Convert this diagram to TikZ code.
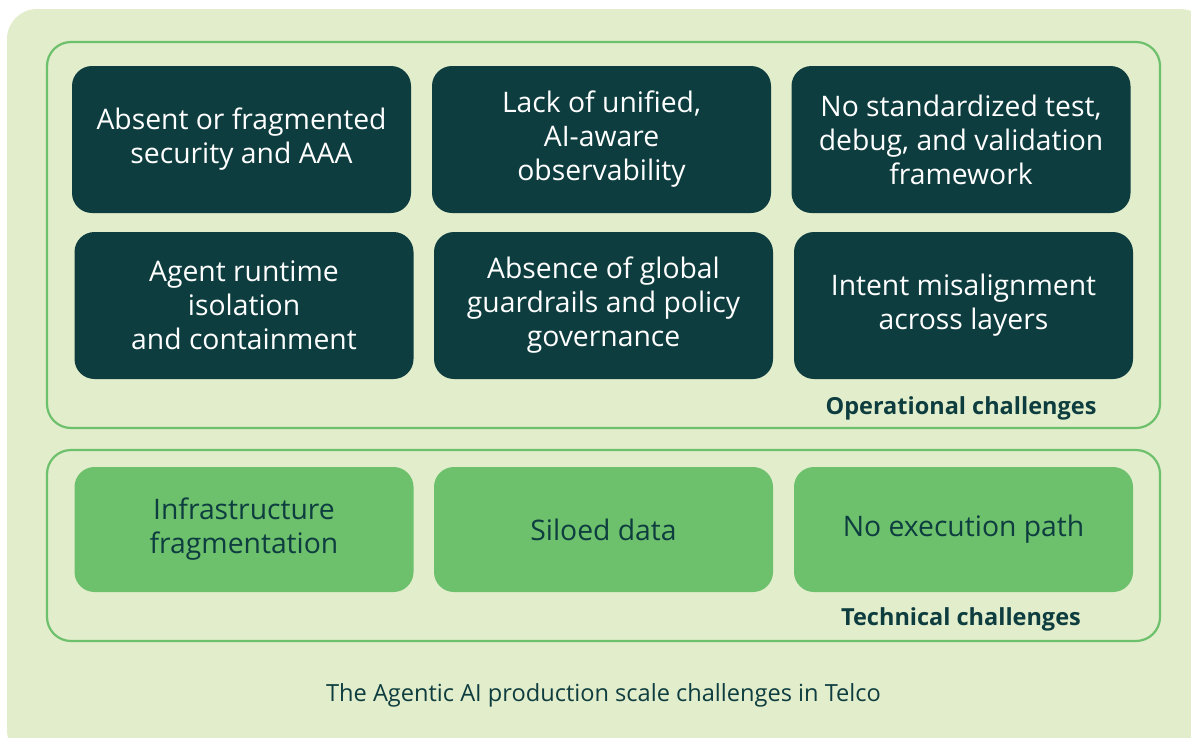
\documentclass[tikz,border=0pt]{standalone}
\usepackage{fontspec}
\setmainfont{Open Sans}
\usepackage{xcolor}
\definecolor{paleGreen}{HTML}{E2EDCB}
\definecolor{frameGreen}{HTML}{6DC06C}
\definecolor{darkTeal}{HTML}{0E3D3F}
\definecolor{softGreen}{HTML}{6DC06C}

\begin{document}
\begin{tikzpicture}[x=1pt,y=-1pt,
    opbox/.style={fill=darkTeal, text=white, rounded corners=20pt, minimum width=339pt, minimum height=147pt, align=center, font=\fontsize{28.3}{34}\selectfont, inner sep=0pt},
    techbox/.style={fill=softGreen, text=darkTeal, rounded corners=20pt, minimum width=339pt, minimum height=125pt, align=center, font=\fontsize{28.3}{34}\selectfont, inner sep=0pt},
    groupframe/.style={draw=frameGreen, line width=2.2pt, rounded corners=24pt},
    grouplabel/.style={text=darkTeal, font=\fontsize{23.5}{28}\selectfont\bfseries}]
              \useasboundingbox (0,0) rectangle (1191,737);
              \fill[paleGreen, rounded corners=30pt] (7,9) rectangle (1210,760);
              % the two groups
              \draw[groupframe] (47,42) rectangle (1160,428);
              \draw[groupframe] (47,450) rectangle (1160,641);
              % operational row one
              \node[opbox] (security) at (241.5,139.5) {Absent or fragmented\\security and AAA};
              \node[opbox] (observe) at (601.5,139.5) {Lack of unified,\\AI-aware\\observability};
              \node[opbox] (testing) at (961,139.5) {No standardized test,\\debug, and validation\\framework};
              % operational row two
              \node[opbox] (runtime) at (244,305.5) {Agent runtime\\isolation\\and containment};
              \node[opbox] (guardrails) at (603.5,305.5) {Absence of global\\guardrails and policy\\governance};
              \node[opbox] (intent) at (963.5,305.5) {Intent misalignment\\across layers};
              \node[grouplabel] (oplabel) at (961,408) {Operational challenges};
              % technical row
              \node[techbox] (infra) at (244,529.5) {Infrastructure\\fragmentation};
              \node[techbox] (siloed) at (603.5,529.5) {Siloed data};
              \node[techbox] (execpath) at (963.5,529.5) {No execution path};
              \node[grouplabel] (techlabel) at (961,619.5) {Technical challenges};
              \node[text=darkTeal, font=\fontsize{23.6}{28}\selectfont] (caption) at (603.5,695.5) {The Agentic AI production scale challenges in Telco};
            \end{tikzpicture}
\end{document}
